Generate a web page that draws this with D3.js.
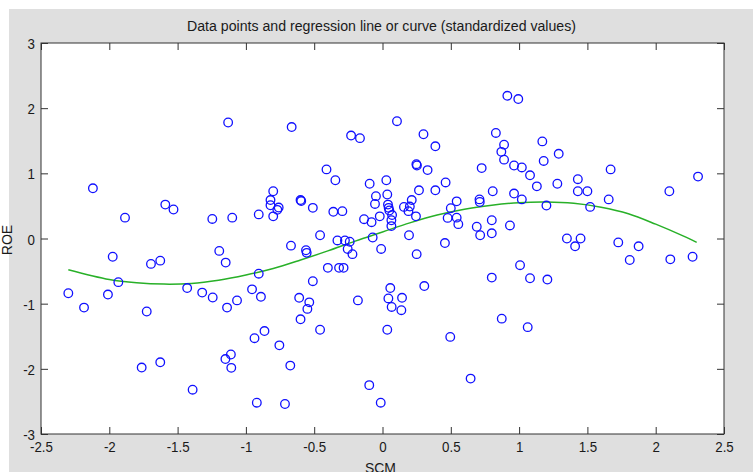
<!DOCTYPE html>
<html><head><meta charset="utf-8">
<script src="https://cdn.jsdelivr.net/npm/d3@7"></script>
<style>body{margin:0;background:#fff}svg{display:block}</style>
</head><body><svg id="c" width="753" height="472"></svg>
<script>
const titleText = "Data points and regression line or curve (standardized values)";
const xLabel = "SCM";
const yLabel = "ROE";
const xTicks = [-2.5,-2,-1.5,-1,-0.5,0,0.5,1,1.5,2,2.5];
const yTicks = [-3,-2,-1,0,1,2,3];

const pointsX = [-2.30,-2.185,-2.12,-2.01,-1.975,-1.934,-1.885,-1.763,-1.726,-1.695,-1.627,-1.627,-1.59,-1.53,-1.43,-1.39,-1.32,-1.246,-1.243,-1.195,
 -1.148,-1.138,-1.13,-1.10,-1.15,-1.11,-1.107,-1.065,-0.955,-0.937,-0.92,-0.906,-0.906,-0.89,-0.864,-0.80,-0.82,-0.82,-0.80,-0.76,
 -0.77,-0.755,-0.714,-0.675,-0.67,-0.665,-0.60,-0.595,-0.61,-0.60,-0.56,-0.555,-0.536,-0.55,-0.51,-0.51,-0.457,-0.457,-0.41,-0.40,
 -0.36,-0.345,-0.33,-0.318,-0.294,-0.285,-0.275,-0.24,-0.255,-0.23,-0.22,-0.18,-0.165,-0.135,-0.097,-0.094,-0.08,-0.072,-0.048,-0.055,
 -0.02,-0.01,-0.013,0.028,0.035,0.04,0.045,0.05,0.07,0.065,0.065,0.035,0.057,0.043,0.067,0.106,0.143,0.138,0.157,0.19,
 0.20,0.214,0.194,0.245,0.248,0.252,0.25,0.267,0.30,0.306,0.33,0.387,0.387,0.457,0.462,0.477,0.496,0.50,0.543,0.543,
 0.555,0.645,0.69,0.71,0.712,0.715,0.726,0.80,0.807,0.80,0.80,0.83,0.873,0.87,0.89,0.89,0.914,0.933,0.963,0.963,
 0.994,1.007,1.02,1.02,1.063,1.08,1.08,1.13,1.17,1.18,1.20,1.207,1.28,1.29,1.35,1.41,1.43,1.43,1.45,1.50,
 1.52,1.656,1.67,1.726,1.81,1.875,2.10,2.107,2.27,2.31];
const pointsY = [-0.84,-1.06,0.77,-0.86,-0.28,-0.67,0.32,-1.98,-1.12,-0.39,-0.34,-1.90,0.52,0.445,-0.76,-2.32,-0.83,0.30,-0.905,-0.19,
 -0.37,-1.06,1.78,0.32,-1.85,-1.78,-1.985,-0.95,-0.78,-1.53,-2.52,-0.54,0.37,-0.895,-1.42,0.725,0.59,0.51,0.34,0.475,
 0.44,-1.64,-2.54,-1.95,-0.11,1.71,0.59,0.575,-0.91,-1.24,-0.18,-0.22,-0.98,-1.08,0.47,-0.655,0.05,-1.40,1.06,-0.45,
 0.41,0.894,-0.03,-0.45,0.42,-0.45,-0.03,-0.05,-0.16,1.58,-0.24,-0.95,1.54,0.296,-2.25,0.84,0.25,0.015,0.65,0.53,
 0.34,-0.16,-2.52,0.894,0.675,0.52,0.47,0.43,0.36,0.28,0.19,-1.40,-0.76,-0.92,-1.05,1.80,-0.91,-1.10,0.485,0.42,
 0.49,0.59,0.05,0.34,1.14,1.12,-0.24,0.74,1.60,-0.73,1.05,1.415,0.74,-0.07,0.86,0.316,-1.51,0.465,0.57,0.32,
 0.22,-2.15,0.18,0.60,0.56,0.05,1.08,-0.60,0.725,0.28,0.08,1.62,-1.23,1.33,1.44,1.21,2.19,0.20,1.12,0.69,
 2.14,-0.41,1.09,0.60,-1.36,0.97,-0.61,0.80,1.49,1.19,0.506,-0.63,0.84,1.30,0.0,-0.12,0.91,0.725,0.0,0.725,
 0.485,0.60,1.06,-0.06,-0.33,-0.12,0.725,-0.32,-0.28,0.95];

const curveX = [-2.3,-2.0,-1.8,-1.6,-1.4,-1.2,-1.0,-0.8,-0.6,-0.4,-0.2,0,0.2,0.4,0.6,0.8,1.0,1.2,1.4,1.6,1.8,2.0,2.2,2.3];
const curveY = [-0.48,-0.63,-0.68,-0.70,-0.69,-0.64,-0.56,-0.46,-0.33,-0.19,-0.04,0.10,0.24,0.36,0.45,0.51,0.55,0.56,0.54,0.48,0.38,0.22,0.04,-0.06];

const svg = d3.select("#c");
const L=41,R=724,T=43,B=434;
const x = d3.scaleLinear().domain([-2.5,2.5]).range([L,R]);
const y = d3.scaleLinear().domain([-3,3]).range([B,T]);
const fontFam = "'Liberation Sans', Arial, Helvetica, sans-serif";
const SX = 0.86;

svg.append("rect").attr("x",9).attr("y",9).attr("width",744).attr("height",463).attr("fill","#dfdfdf");
svg.append("rect").attr("x",L).attr("y",T).attr("width",R-L).attr("height",B-T).attr("fill","#fff");

// curve
const line = d3.line().x((d,i)=>x(curveX[i])).y((d,i)=>y(curveY[i])).curve(d3.curveCatmullRom.alpha(0.5));
svg.append("path").datum(curveX).attr("d",line).attr("fill","none").attr("stroke","#28b028").attr("stroke-width",1.5);

// points
svg.append("g").selectAll("circle").data(pointsX).join("circle")
  .attr("cx",(d,i)=>x(pointsX[i])).attr("cy",(d,i)=>y(pointsY[i])).attr("r",4.3)
  .attr("fill","none").attr("stroke","#1010ff").attr("stroke-width",1.3);

// axes
function styleAxis(g){
  g.select(".domain").remove();
  g.selectAll("line").attr("stroke","#333").attr("stroke-width",1);
  g.selectAll("text").attr("font-family",fontFam).attr("font-size","15.5px").attr("fill","#1a1a1a");
}
const ax = svg.append("g").attr("transform",`translate(0,${B})`)
  .call(d3.axisBottom(x).tickValues(xTicks).tickSize(-7).tickFormat(d=>String(d)));
styleAxis(ax);
ax.selectAll("text").attr("y",18.5).attr("dy",0).attr("transform",`scale(${SX},1)`);
const axt = svg.append("g").attr("transform",`translate(0,${T})`)
  .call(d3.axisTop(x).tickValues(xTicks).tickSize(-7).tickFormat(""));
styleAxis(axt);
const ay = svg.append("g").attr("transform",`translate(${L},0)`)
  .call(d3.axisLeft(y).tickValues(yTicks).tickSize(-7).tickFormat(d=>String(d)));
styleAxis(ay);
ay.selectAll("text").attr("x",-7).attr("dy","0.36em").attr("transform",`scale(${SX},1)`);
const ayr = svg.append("g").attr("transform",`translate(${R},0)`)
  .call(d3.axisRight(y).tickValues(yTicks).tickSize(-7).tickFormat(""));
styleAxis(ayr);

svg.append("rect").attr("x",L).attr("y",T).attr("width",R-L).attr("height",B-T)
  .attr("fill","none").attr("stroke","#333").attr("stroke-width",1);

// title
svg.append("text").attr("x",381.5).attr("y",30.5).attr("text-anchor","middle")
  .attr("font-family",fontFam).attr("font-size","15.5px").attr("fill","#1a1a1a")
  .attr("textLength",389).attr("lengthAdjust","spacingAndGlyphs").text(titleText);
svg.append("text").attr("x",380.5).attr("y",472.5).attr("text-anchor","middle")
  .attr("font-family",fontFam).attr("font-size","15.5px").attr("fill","#1a1a1a")
  .attr("textLength",31).attr("lengthAdjust","spacingAndGlyphs").text(xLabel);
svg.append("text").attr("transform","translate(12,240) rotate(-90)").attr("text-anchor","middle")
  .attr("font-family",fontFam).attr("font-size","14px").attr("fill","#1a1a1a").text(yLabel);
</script></body></html>
